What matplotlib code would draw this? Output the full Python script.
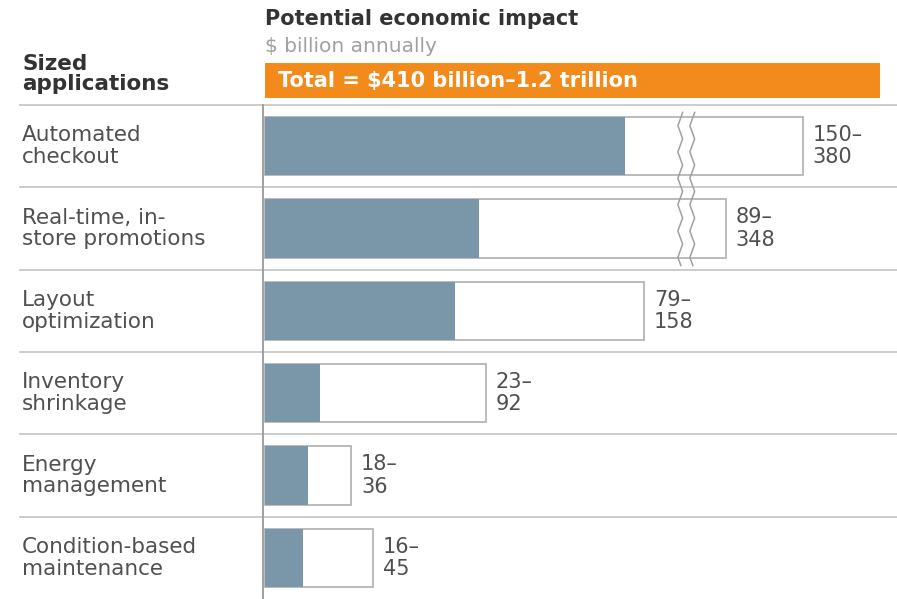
import numpy as np
import matplotlib
matplotlib.use("Agg")
import matplotlib.pyplot as plt
from matplotlib.patches import Rectangle
import matplotlib.transforms as mtransforms

categories = ["Automated\ncheckout", "Real-time, in-\nstore promotions", "Layout\noptimization",
              "Inventory\nshrinkage", "Energy\nmanagement", "Condition-based\nmaintenance"]
low_values = [150, 89, 79, 23, 18, 16]
high_values = [380, 348, 158, 92, 36, 45]
title_text = "Potential economic impact"
unit_text = "$ billion annually"
total_text = "Total = $410 billion\u20131.2 trillion"
header_left = "Sized\napplications"

FILL = "#7a97a9"
EDGE = "#b5b5b5"
TXT = "#505050"
ORANGE = "#f38b1c"

# broken-axis scale
B0, B1, GAP = 174.5, 332.5, 2.0
def fwd(v):
    v = np.asarray(v, dtype=float)
    return np.where(v <= B0, v, np.where(v >= B1, v - (B1 - B0) + GAP,
                                         B0 + (v - B0) * GAP / (B1 - B0)))
def inv(t):
    t = np.asarray(t, dtype=float)
    return np.where(t <= B0, t, np.where(t >= B0 + GAP, t + (B1 - B0) - GAP,
                                         B0 + (t - B0) * (B1 - B0) / GAP))

W, H = 897, 599
fig = plt.figure(figsize=(W / 100, H / 100), dpi=100)
fig.patch.set_facecolor("white")
ax = fig.add_axes([263 / W, 0, 634 / W, 494 / H])
ax.set_xscale("function", functions=(fwd, inv))
ax.set_xlim(-0.83, 419.3)
n = len(categories)
ax.set_ylim(n - 0.5, -0.5)
ax.axis("off")

bh = 0.71
for i, (lo, hi) in enumerate(zip(low_values, high_values)):
    ax.barh(i, hi, height=bh, left=0, color="white", edgecolor=EDGE, linewidth=1.3, zorder=2)
    ax.barh(i, lo, height=bh, left=0, color=FILL, edgecolor="none", zorder=3)
    ax.annotate(f"{lo}\u2013\n{hi}", xy=(hi, i), xytext=(7, 0), textcoords="offset points",
                ha="left", va="center", fontsize=15, color=TXT, linespacing=1.15)

# left axis line
ax.axvline(-0.83, color="#999999", lw=1.3, zorder=4, clip_on=False)

# row separators across the whole figure
blend = mtransforms.blended_transform_factory(fig.transFigure, ax.transData)
for yb in np.arange(-0.5, n - 0.5, 1.0):
    ax.plot([20 / W, 1.0], [yb, yb], transform=blend, color="#c8c8c8", lw=1.3,
            clip_on=False, zorder=1)

# category labels
for i, c in enumerate(categories):
    ax.text(22 / W, i, c, transform=blend, ha="left", va="center", fontsize=15.5,
            color=TXT, linespacing=1.12)

# break marks
yy = np.linspace(-0.41, 1.45, 300)
wig = 2 * np.abs(((yy + 0.41) / 0.32) % 1.0 - 0.5) * 2 - 1
for xc in (173.0, 334.0):
    ax.plot(xc + 1.0 * wig, yy, color="#a0a0a0", lw=1.1, zorder=5, clip_on=False)

# header
fig.text(265 / W, 1 - 19 / H, title_text, fontsize=15, fontweight="bold", color="#333333",
         ha="left", va="center")
fig.text(265 / W, 1 - 46 / H, unit_text, fontsize=14.5, color="#a0a0a0", ha="left", va="center")
fig.patches.append(Rectangle((265 / W, 1 - 98 / H), 615 / W, 35 / H, transform=fig.transFigure,
                             facecolor=ORANGE, edgecolor="none"))
fig.text(278 / W, 1 - 81 / H, total_text, fontsize=15, fontweight="bold", color="white",
         ha="left", va="center")
fig.text(22 / W, 1 - 74 / H, header_left, fontsize=15.5, fontweight="bold", color="#333333",
         ha="left", va="center", linespacing=1.05)

fig.savefig("out.png", dpi=100)
